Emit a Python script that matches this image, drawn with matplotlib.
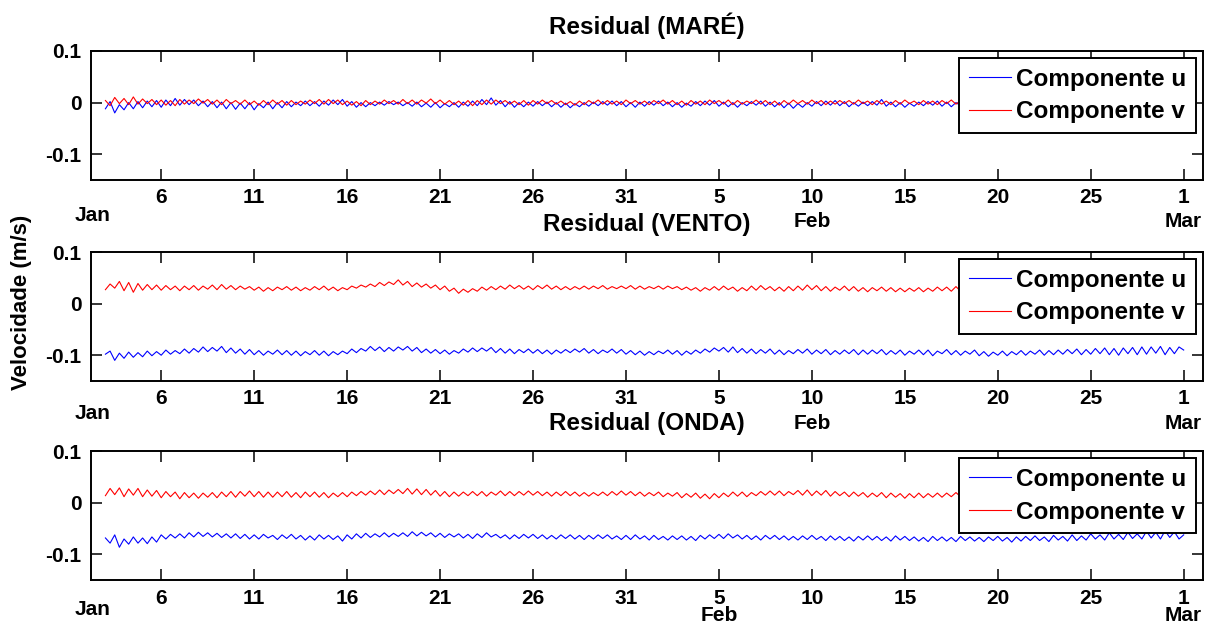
import numpy as np
import pandas as pd
import matplotlib
matplotlib.use("Agg")
import matplotlib.pyplot as plt
import matplotlib.dates as mdates

# residual currents, mm/s, 6-hourly from 2012-01-03 00:00
start = "2012-01-03"
step = "6h"

mare_u = [
    -12, 2, -20, -4, -14, 0, -12, 2,
    -10, 3, -8, 4, -9, 5, -6, 8,
    -5, 6, -4, 5, -6, 3, -8, 2,
    -10, 1, -12, 0, -13, -1, -12, 0,
    -14, -2, -10, 1, -12, 0, -10, 2,
    -8, 1, -6, 3, -6, 2, -7, 3,
    -5, 5, -4, 6, -7, 2, -9, 0,
    -8, 0, -6, 1, -5, 2, -4, 1,
    -6, 0, -7, 1, -8, -1, -9, 0,
    -10, -2, -8, 0, -9, 1, -7, 3,
    -6, 6, -4, 9, -5, 4, -8, 2,
    -9, 0, -8, 1, -7, 2, -6, 1,
    -8, 0, -9, -1, -10, -2, -8, 0,
    -7, 1, -6, 2, -5, 3, -6, 2,
    -8, 0, -9, 1, -7, 2, -5, 3,
    -6, 1, -8, 0, -9, -1, -7, 2,
    -6, 3, -5, 4, -7, 1, -8, 0,
    -9, 0, -6, 2, -5, 3, -7, 1,
    -8, 0, -10, -1, -11, -2, -9, 0,
    -7, 2, -6, 3, -5, 4, -6, 2,
    -8, 0, -7, 1, -6, 2, -5, 6,
    -7, 1, -8, 0, -9, -1, -7, 1,
    -6, 2, -5, 3, -7, 1, -8, 0,
    -6, 2, -7, 1, -5, 3, -6, 2,
    -8, 0, -7, 1, -6, 2, -8, 0,
    -7, 1, -6, 2, -5, 3, -7, 1,
    -8, 0, -6, 2, -7, 1, -5, 3,
    -6, 2, -8, 0, -7, 1, -6, 2,
    -5, 3, -7, 1, -6, 2, -8, 0,
    -4,
]
mare_v = [
    4, -6, 10, -2, 8, -4, 11, -3,
    7, -2, 6, -4, 5, -5, 4, -6,
    6, -3, 5, -2, 7, -1, 6, -3,
    5, -4, 6, -2, 4, -3, 5, -4,
    3, -5, 4, -4, 5, -3, 4, -5,
    4, -4, 3, -3, 5, -2, 6, -3,
    6, -2, 5, -4, 3, -5, 2, -6,
    4, -4, 3, -3, 5, -2, 4, -3,
    6, -2, 5, -3, 5, -1, 7, -2,
    5, -3, 4, -4, 3, -5, 4, -6,
    4, -4, 5, -3, 5, -2, 4, -3,
    3, -4, 4, -5, 4, -3, 5, -2,
    4, -3, 3, -4, 2, -5, 3, -4,
    4, -2, 5, -3, 4, -3, 3, -4,
    5, -2, 4, -3, 3, -4, 4, -2,
    5, -3, 4, -4, 3, -5, 4, -3,
    3, -4, 5, -2, 4, -3, 5, -4,
    4, -3, 3, -2, 5, -3, 4, -4,
    3, -5, 4, -3, 5, -2, 4, -3,
    5, -2, 4, -4, 3, -3, 4, -2,
    4, -3, 5, -2, 3, -4, 4, -3,
    3, -4, 4, -3, 5, -2, 3, -4,
    4, -3, 3, -4, 4, -2, 5, -3,
    4, -3, 3, -4, 4, -3, 5, -2,
    3, -4, 4, -3, 4, -2, 3, -4,
    4, -3, 5, -2, 4, -3, 3, -4,
    4, -2, 3, -3, 5, -4, 4, -3,
    3, -4, 4, -2, 4, -3, 5, -3,
    4, -3, 3, -4, 4, -2, 3, -3,
    2,
]
vento_u = [
    -98, -92, -110, -96, -106, -94, -104, -95,
    -103, -92, -101, -93, -100, -90, -98, -91,
    -97, -88, -96, -87, -94, -84, -93, -85,
    -92, -83, -95, -86, -96, -88, -98, -89,
    -99, -91, -100, -92, -98, -90, -99, -91,
    -100, -92, -101, -93, -99, -91, -100, -92,
    -101, -93, -99, -92, -97, -88, -95, -87,
    -92, -83, -91, -84, -93, -85, -92, -84,
    -90, -83, -92, -85, -95, -88, -96, -89,
    -97, -90, -98, -91, -96, -88, -94, -86,
    -93, -86, -92, -85, -95, -87, -96, -88,
    -97, -89, -95, -88, -96, -89, -97, -90,
    -98, -90, -96, -89, -95, -88, -94, -87,
    -96, -89, -97, -90, -95, -88, -96, -89,
    -98, -91, -99, -92, -100, -93, -99, -92,
    -97, -90, -98, -91, -100, -92, -98, -90,
    -96, -88, -94, -86, -92, -85, -94, -84,
    -95, -87, -96, -88, -97, -89, -96, -88,
    -98, -90, -99, -91, -97, -89, -96, -88,
    -98, -90, -97, -89, -99, -91, -98, -90,
    -97, -89, -99, -90, -98, -90, -97, -89,
    -99, -91, -98, -90, -100, -92, -98, -90,
    -99, -90, -101, -92, -97, -89, -99, -91,
    -100, -92, -98, -90, -101, -93, -102, -94,
    -100, -92, -101, -93, -99, -91, -100, -92,
    -98, -90, -100, -91, -99, -90, -98, -89,
    -97, -88, -99, -89, -98, -87, -97, -86,
    -99, -87, -100, -86, -97, -85, -99, -84,
    -98, -84, -96, -83, -99, -85, -97, -84,
    -90,
]
vento_v = [
    27, 38, 30, 43, 25, 41, 22, 39,
    26, 37, 27, 36, 26, 35, 27, 34,
    25, 34, 27, 35, 26, 34, 28, 36,
    27, 37, 28, 35, 27, 34, 28, 33,
    26, 32, 24, 31, 25, 32, 27, 33,
    26, 32, 25, 31, 26, 33, 27, 34,
    26, 32, 25, 31, 27, 34, 30, 36,
    32, 38, 33, 41, 35, 42, 37, 46,
    36, 43, 33, 40, 32, 38, 30, 36,
    27, 34, 24, 30, 20, 28, 22, 29,
    24, 32, 26, 33, 27, 34, 28, 36,
    29, 35, 28, 34, 27, 35, 29, 36,
    28, 34, 27, 33, 27, 33, 28, 34,
    28, 34, 29, 35, 28, 33, 29, 34,
    29, 35, 28, 34, 28, 33, 29, 34,
    28, 34, 29, 33, 27, 32, 26, 31,
    24, 31, 26, 33, 26, 34, 27, 32,
    24, 31, 25, 34, 26, 35, 27, 33,
    25, 32, 24, 33, 25, 34, 26, 36,
    27, 35, 25, 33, 24, 32, 26, 34,
    25, 33, 24, 31, 23, 31, 25, 32,
    24, 31, 23, 30, 23, 30, 24, 31,
    23, 30, 24, 32, 25, 32, 24, 33,
    24, 31, 25, 32, 24, 30, 25, 31,
    23, 30, 24, 31, 25, 32, 24, 30,
    23, 31, 24, 32, 25, 31, 24, 30,
    24, 32, 25, 31, 23, 30, 24, 31,
    25, 32, 24, 31, 23, 30, 24, 32,
    25, 31, 24, 30, 23, 31, 25, 32,
    28,
]
onda_u = [
    -68, -78, -62, -86, -70, -80, -66, -78,
    -68, -79, -66, -76, -62, -70, -61, -68,
    -60, -68, -58, -66, -57, -65, -58, -66,
    -59, -67, -60, -68, -60, -69, -61, -70,
    -62, -70, -61, -68, -63, -71, -62, -69,
    -61, -70, -63, -72, -64, -72, -62, -70,
    -63, -71, -64, -74, -62, -70, -60, -68,
    -59, -67, -60, -66, -58, -66, -59, -65,
    -58, -65, -56, -64, -57, -64, -58, -66,
    -59, -67, -60, -66, -60, -68, -61, -69,
    -60, -67, -58, -66, -61, -68, -62, -70,
    -62, -69, -61, -68, -61, -69, -62, -70,
    -63, -70, -62, -69, -62, -70, -63, -71,
    -63, -70, -62, -69, -62, -70, -64, -71,
    -63, -71, -62, -70, -64, -72, -63, -71,
    -65, -72, -64, -71, -64, -72, -65, -73,
    -63, -70, -62, -69, -61, -69, -60, -68,
    -62, -70, -63, -71, -64, -72, -63, -70,
    -63, -71, -64, -72, -65, -72, -64, -71,
    -63, -71, -65, -73, -64, -72, -65, -73,
    -66, -74, -65, -72, -64, -72, -65, -73,
    -66, -74, -64, -72, -65, -73, -66, -74,
    -67, -75, -65, -73, -66, -74, -67, -75,
    -65, -73, -66, -74, -67, -75, -66, -73,
    -65, -74, -67, -76, -66, -74, -65, -73,
    -64, -73, -66, -75, -63, -72, -65, -74,
    -62, -73, -64, -72, -60, -70, -62, -72,
    -58, -70, -61, -71, -57, -69, -60, -70,
    -55, -68, -57, -70, -54, -67, -56, -70,
    -62,
]
onda_v = [
    14, 28, 16, 29, 12, 27, 15, 28,
    12, 25, 13, 24, 10, 22, 12, 21,
    8, 20, 10, 19, 9, 19, 11, 20,
    10, 21, 12, 22, 11, 22, 13, 23,
    12, 22, 11, 21, 11, 21, 12, 22,
    11, 20, 10, 21, 12, 21, 11, 20,
    10, 19, 12, 20, 12, 21, 14, 22,
    15, 23, 16, 25, 16, 25, 18, 26,
    18, 28, 17, 27, 16, 26, 15, 24,
    13, 22, 12, 21, 13, 21, 14, 22,
    14, 22, 13, 21, 15, 23, 14, 22,
    14, 22, 15, 23, 15, 22, 14, 21,
    13, 21, 14, 22, 14, 21, 13, 20,
    13, 20, 14, 21, 14, 22, 15, 23,
    15, 22, 14, 21, 13, 20, 14, 21,
    12, 19, 13, 20, 10, 18, 11, 19,
    9, 17, 8, 18, 10, 19, 12, 21,
    13, 21, 12, 20, 14, 22, 15, 23,
    15, 23, 14, 22, 16, 24, 15, 25,
    14, 23, 15, 24, 13, 22, 14, 21,
    12, 21, 13, 20, 11, 19, 12, 20,
    10, 19, 11, 18, 9, 18, 10, 19,
    10, 18, 11, 19, 11, 19, 12, 20,
    12, 20, 11, 19, 13, 21, 12, 20,
    11, 19, 12, 20, 11, 18, 12, 19,
    12, 20, 11, 19, 12, 21, 13, 20,
    11, 19, 12, 20, 11, 18, 12, 19,
    12, 20, 13, 21, 12, 19, 11, 20,
    12, 19, 13, 20, 12, 21, 11, 19,
    15,
]

titles = ["Residual (MARÉ)", "Residual (VENTO)", "Residual (ONDA)"]
tick_dates = ["2012-01-06", "2012-01-11", "2012-01-16", "2012-01-21", "2012-01-26",
              "2012-01-31", "2012-02-05", "2012-02-10", "2012-02-15", "2012-02-20",
              "2012-02-25", "2012-03-01"]
tick_labels = ["6", "11", "16", "21", "26", "31", "5", "10", "15", "20", "25", "1"]
month_labels = [
    [("2012-01-02 08:00", "Jan"), ("2012-02-10", "Feb"), ("2012-03-01", "Mar")],
    [("2012-01-02 08:00", "Jan"), ("2012-02-10", "Feb"), ("2012-03-01", "Mar")],
    [("2012-01-02 08:00", "Jan"), ("2012-02-05", "Feb"), ("2012-03-01", "Mar")],
]

plt.rcParams['font.family'] = ['Liberation Sans', 'DejaVu Sans']
plt.rcParams['font.weight'] = 'bold'

fig = plt.figure(figsize=(12.21, 6.28), dpi=100)

series = [(mare_u, mare_v), (vento_u, vento_v), (onda_u, onda_v)]
bottoms = [0.7134, 0.3933, 0.0760]
title_pads = [12, 15, 15]
jan_off = [36, 32, 29]
mon_off = [42, 42, 35]

for i, (u, v) in enumerate(series):
    ax = fig.add_axes([0.0743, bottoms[i], 0.911, 0.2054])
    t_u = pd.date_range(start, periods=len(u), freq=step)
    t_v = pd.date_range(start, periods=len(v), freq=step)
    ax.plot(t_u, np.array(u) / 1000.0, color='#0000ff', lw=0.8, label='Componente u')
    ax.plot(t_v, np.array(v) / 1000.0, color='#ff0000', lw=0.8, label='Componente v')

    ax.set_xlim(pd.Timestamp("2012-01-02 05:00"), pd.Timestamp("2012-03-02 01:00"))
    ax.set_ylim(-0.15, 0.1)
    ax.set_yticks([-0.1, 0, 0.1])
    ax.set_yticklabels(["-0.1", "0", "0.1"])
    ax.set_xticks(mdates.date2num(pd.to_datetime(tick_dates)))
    ax.set_xticklabels(tick_labels)
    ax.tick_params(direction='in', length=8, width=1.1, top=True, right=True,
                   labelsize=15)
    ax.tick_params(axis='x', pad=6)
    ax.tick_params(axis='y', pad=6.5)
    for s in ax.spines.values():
        s.set_linewidth(1.4)

    ax.set_title(titles[i], fontsize=17.5, fontweight='bold', pad=title_pads[i])

    for d, txt in month_labels[i]:
        off = jan_off[i] if txt == "Jan" else mon_off[i]
        ax.annotate(txt, xy=(mdates.date2num(pd.Timestamp(d)), 0),
                    xycoords=('data', 'axes fraction'), xytext=(0, -off),
                    textcoords='offset pixels', ha='center', va='center',
                    fontsize=15, fontweight='bold', annotation_clip=False)

    leg = ax.legend(loc='upper right', fontsize=17.5, frameon=True, fancybox=False,
                    framealpha=1, edgecolor='black', borderaxespad=0.28,
                    handlelength=1.75, handletextpad=0.2, labelspacing=0.4,
                    borderpad=0.4)
    leg.get_frame().set_linewidth(1.4)

fig.text(0.018, 0.519, "Velocidade (m/s)", rotation=90, va='center', ha='center',
         fontsize=16, fontweight='bold')

fig.savefig("out.png", dpi=100)
